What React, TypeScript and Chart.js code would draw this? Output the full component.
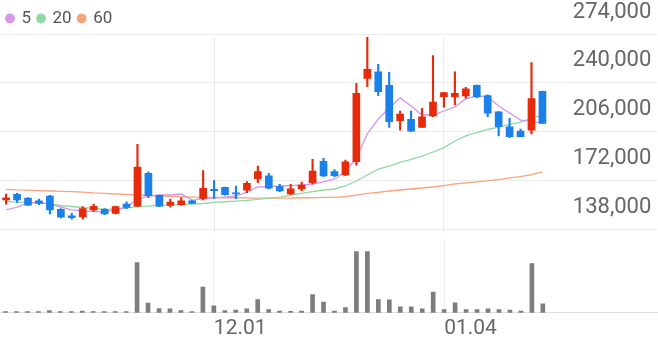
import React, { useEffect, useRef } from 'react';
import { Chart, registerables } from 'chart.js';

Chart.register(...registerables);

// ---- data ----
const dates = [
  '11.04','11.05','11.06','11.09','11.10','11.11','11.12','11.13','11.16','11.17',
  '11.18','11.19','11.20','11.23','11.24','11.25','11.26','11.27','11.30','12.01',
  '12.02','12.03','12.04','12.07','12.08','12.09','12.10','12.11','12.14','12.15',
  '12.16','12.17','12.18','12.21','12.22','12.23','12.24','12.28','12.29','12.30',
  '01.04','01.05','01.06','01.07','01.08','01.11','01.12','01.13','01.14','01.15',
];
const emptySlots = 10;
const monthTicks = ['12.01', '01.04'];

const open = [
  158200,162200,159600,157700,161000,151700,147100,146400,151300,151700,
  148900,155400,154000,176800,161500,154500,154900,157700,159400,165700,
  167100,163300,165000,173100,175000,167500,162400,165900,170300,185200,
  178000,175700,184900,243100,247700,238200,213500,214500,208900,216800,
  230300,230100,230800,238200,231000,219800,209300,206300,207000,234000,
];
const high = [
  162400,162800,160000,158900,161400,152200,148900,153600,155400,152300,
  154000,157000,197100,177800,161700,158700,159800,158200,178700,171700,
  167300,168000,171000,181900,176800,169200,169200,170800,186600,187300,
  179400,186100,239600,273800,252900,247300,220300,220300,222200,258900,
  233200,247700,236800,238600,231500,219900,215200,207700,254000,234200,
];
const low = [
  155400,156600,154400,154900,148500,145700,144800,144800,150300,148000,
  148500,152200,153700,159800,153600,153300,154700,155800,158200,159400,
  161600,159100,163300,170300,165900,164000,161900,164700,169200,174500,
  174500,175200,182600,237200,231000,208900,207000,205900,208800,216300,
  222900,224500,229200,229600,216300,202900,201700,202200,204300,211600,
];
const close = [
  159800,158200,154700,155900,151300,146200,145900,152200,153800,148500,
  153600,153100,181200,161200,154000,156800,157700,155900,166400,164700,
  161900,162400,169900,178000,166400,164500,166100,168700,178400,175000,
  175200,184900,232600,249400,233800,212800,218200,206300,216300,226600,
  233100,232600,235800,230100,218700,209300,202400,202400,228900,211700,
];
const ma5 = [
  151300,153300,156100,156800,155400,153300,151300,150600,150200,149900,
  151300,153300,158900,161000,161700,161700,162400,158000,159300,159600,
  160300,161000,163800,167300,167600,168000,168300,168700,169400,170800,
  172900,177800,187500,204300,214700,222400,229400,223800,217500,217500,
  220300,223100,228700,230800,230100,223800,218900,214000,213000,211900,
];
const ma20 = [
  157200,156800,156500,156300,155400,154400,153700,153000,152300,151900,
  151600,152600,153600,154000,154500,154700,155100,155400,155800,156500,
  157000,157500,157900,158600,159600,160300,161700,162800,164000,165200,
  165900,168000,171500,175700,179800,181900,184400,186500,188900,191700,
  194800,199400,202900,205300,207400,209100,210900,212600,215100,217500,
];
const ma60 = [
  165700,165300,165100,164800,164500,164300,164000,163700,163200,162900,
  162400,162100,161700,161400,161000,160700,160500,160300,160100,160000,
  159800,159800,159700,159600,159600,159600,159600,159800,159800,160000,
  160100,160500,161700,162800,163600,164500,165200,165900,166600,167300,
  168300,169400,170100,170800,171500,172500,173600,174600,176000,177800,
];
const volume = [
  13000,13000,13000,13000,23000,13000,13000,17000,13000,13000,
  13000,13000,503000,96000,43000,40000,23000,13000,256000,70000,
  23000,27000,40000,133000,33000,17000,15000,17000,183000,107000,
  17000,53000,613000,613000,133000,130000,60000,60000,40000,207000,
  33000,100000,33000,33000,40000,33000,27000,17000,493000,90000,
];
const priceTicks = [138000, 172000, 206000, 240000, 274000];

// ---- styles / layout ----
const UP = '#e52b0c';
const DOWN = '#1a80ea';
const C5 = '#d795ec';
const C20 = '#8fd9a2';
const C60 = '#f8a47c';
const GRID = '#ececec';
const TEXT = '#666666';
const FONT = 'Roboto';
// where the top and bottom price grid lines should sit on the canvas
const TOP_LINE_Y = 34;
const BOTTOM_LINE_Y = 229;
const VOL_PER_PX = 10000;

const labels = [...dates, ...Array(emptySlots).fill('')];
const candleColors = close.map((c, i) => (c >= open[i] ? UP : DOWN));

function filterMonthTicks(scale: any) {
  scale.ticks = scale.ticks.filter((t: any) => monthTicks.includes(labels[t.value]));
}

export default function App() {
  const priceRef = useRef<HTMLCanvasElement>(null);
  const volRef = useRef<HTMLCanvasElement>(null);

  useEffect(() => {
    const topTick = priceTicks[priceTicks.length - 1];
    const bottomTick = priceTicks[0];
    const price = new Chart(priceRef.current!, {
      type: 'bar',
      data: {
        labels,
        datasets: [
          { type: 'line', label: '5', data: ma5, borderColor: C5, backgroundColor: C5, borderWidth: 1.3, pointRadius: 0, order: 3 } as any,
          { type: 'line', label: '20', data: ma20, borderColor: C20, backgroundColor: C20, borderWidth: 1.3, pointRadius: 0, order: 3 } as any,
          { type: 'line', label: '60', data: ma60, borderColor: C60, backgroundColor: C60, borderWidth: 1.3, pointRadius: 0, order: 3 } as any,
          { type: 'bar', label: 'wick', data: low.map((l, i) => [l, high[i]]), backgroundColor: candleColors, barThickness: 1.5, grouped: false, order: 2 } as any,
          { type: 'bar', label: 'body', data: open.map((o, i) => [o, close[i]]), backgroundColor: candleColors, barThickness: 7, grouped: false, order: 1 } as any,
        ],
      },
      options: {
        responsive: false,
        animation: false,
        layout: { padding: { top: 3 } },
        plugins: {
          legend: {
            display: true,
            position: 'top',
            align: 'start',
            labels: {
              usePointStyle: true,
              pointStyle: 'circle',
              boxWidth: 6,
              boxHeight: 6,
              padding: 7,
              color: '#555555',
              font: { size: 17, family: FONT },
              filter: (item: any) => item.datasetIndex < 3,
            },
          },
          tooltip: { enabled: false },
        },
        scales: {
          x: {
            type: 'category',
            offset: true,
            grid: { offset: false, color: GRID, drawTicks: false },
            border: { display: false },
            ticks: { display: false, autoSkip: false },
            afterBuildTicks: filterMonthTicks,
          },
          y: {
            position: 'right',
            min: bottomTick - 10000,
            max: topTick,
            grid: { color: GRID, drawTicks: false },
            border: { display: false },
            ticks: {
              mirror: true,
              padding: -6,
              labelOffset: -22,
              color: TEXT,
              font: { size: 22, family: FONT },
              callback: (v: any) => Number(v).toLocaleString('en-US'),
            },
            afterBuildTicks: (s: any) => {
              s.ticks = priceTicks.map((v) => ({ value: v }));
            },
          },
        },
      } as any,
    });
    // calibrate the value range so the grid lines land where the reference has them
    {
      const { top, bottom } = price.chartArea;
      const perPx = (topTick - bottomTick) / (BOTTOM_LINE_Y - TOP_LINE_Y);
      const ys = (price.options as any).scales.y;
      ys.max = topTick + (TOP_LINE_Y - top) * perPx;
      ys.min = bottomTick - (bottom - BOTTOM_LINE_Y) * perPx;
      price.update();
    }

    const vol = new Chart(volRef.current!, {
      type: 'bar',
      data: {
        labels,
        datasets: [
          { label: 'volume', data: volume, backgroundColor: '#7d7d7d', barThickness: 4 },
        ],
      },
      options: {
        responsive: false,
        animation: false,
        layout: { padding: 0 },
        plugins: { legend: { display: false }, tooltip: { enabled: false } },
        scales: {
          x: {
            type: 'category',
            offset: true,
            grid: { offset: false, color: GRID, drawTicks: false },
            border: { display: true, color: '#dddddd' },
            ticks: {
              align: 'start',
              padding: 3,
              color: TEXT,
              font: { size: 21, family: FONT },
              maxRotation: 0,
              autoSkip: false,
            },
            afterBuildTicks: filterMonthTicks,
          },
          y: { display: false, min: 0, max: 700000 },
        },
      } as any,
    });
    {
      const { top, bottom } = vol.chartArea;
      (vol.options as any).scales.y.max = (bottom - top) * VOL_PER_PX;
      vol.update();
    }

    return () => {
      price.destroy();
      vol.destroy();
    };
  }, []);

  return (
    <div style={{ position: 'fixed', left: 0, top: 0, width: 658, height: 342, background: '#fff', overflow: 'hidden' }}>
      <canvas ref={priceRef} width={658} height={240} style={{ position: 'absolute', left: 0, top: 0, width: 658, height: 240 }} />
      <canvas ref={volRef} width={658} height={104} style={{ position: 'absolute', left: 0, top: 240, width: 658, height: 104 }} />
    </div>
  );
}
